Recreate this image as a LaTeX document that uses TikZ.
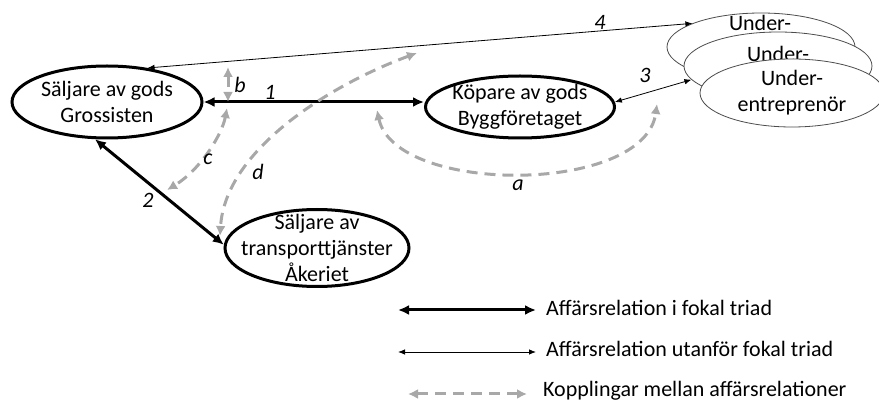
\documentclass[tikz,border=0pt]{standalone}
\usepackage{fontspec}
\setmainfont{Carlito}
\usetikzlibrary{arrows.meta,shapes.geometric}
\definecolor{linkgray}{RGB}{168,168,168}
\begin{document}
\begin{tikzpicture}[x=1pt,y=-1pt,
  txt/.style={font=\fontsize{22}{26}\selectfont},
  actor/.style={ellipse, draw, line width=3pt, inner sep=-30pt, align=center, txt},
  sub/.style={ellipse, draw=black!70, line width=0.8pt, fill=white, inner sep=-30pt,
    minimum width=188, minimum height=68, align=center, txt},
  focal/.style={line width=3pt, {Latex[length=11pt,width=10pt]}-{Latex[length=11pt,width=10pt]}},
  outer/.style={line width=0.8pt, {Latex[length=7pt,width=5.5pt]}-{Latex[length=7pt,width=5.5pt]}},
  link/.style={draw=linkgray, line width=3pt, dash pattern=on 11pt off 7pt,
    {Latex[length=10pt,width=10pt,fill=linkgray]}-{Latex[length=10pt,width=10pt,fill=linkgray]}},
  lbl/.style={font=\fontsize{22}{26}\selectfont\itshape, inner sep=1pt},
  legtxt/.style={txt, anchor=base west, inner sep=0pt},
]
\useasboundingbox (0,0) rectangle (879,403);

% actors of the focal triad
\node[actor, minimum width=190, minimum height=72] (gros) at (107,102) {Säljare av gods\\Grossisten};
\node[actor, minimum width=189, minimum height=62] (kop) at (520,107) {Köpare av gods\\Byggföretaget};
\node[actor, minimum width=184, minimum height=77] (ake) at (317,248) {Säljare av\\transporttjänster\\Åkeriet};

% stacked subcontractors, back to front
\node[sub] (ueback) at (761,47) {};
\node[txt, inner sep=0pt] (uebacktxt) at (760,23) {Under-};
\node[sub] (uemid) at (778,66) {};
\node[txt, inner sep=0pt] (uemidtxt) at (778,54) {Under-};
\node[sub, minimum width=184] (uefront) at (792,93) {Under-\\entreprenör};

% business relations
\draw[focal] (gros.east) -- (gros.east -| kop.west);
\draw[focal] (gros.252) -- (ake.178);
\draw[outer] (kop.3) -- (uemid.189);
\draw[outer] (gros.40) -- (ueback.161);

\node[lbl] (n1) at (270,92) {1};
\node[lbl] (n2) at (148,200) {2};
\node[lbl] (n3) at (645,75) {3};
\node[lbl] (n4) at (600,22) {4};

% connections between relations
\coordinate (a0) at (377,110);
\coordinate (a1) at (657,104);
\coordinate (b0) at (228,67);
\coordinate (b1) at (228,102);
\coordinate (c0) at (227,108);
\coordinate (c1) at (167,190);
\coordinate (d0) at (417,53);
\coordinate (d1) at (220,236);
\draw[link] (a0) .. controls (395,195) and (645,195) .. (a1);
\draw[link] (b0) -- (b1);
\draw[link] (c0) .. controls (222,135) and (200,170) .. (c1);
\draw[link] (d0) .. controls (330,85) and (225,150) .. (d1);

\node[lbl] (na) at (518,185) {a};
\node[lbl] (nb) at (240,85) {b};
\node[lbl] (nc) at (208,159) {c};
\node[lbl] (nd) at (258,172) {d};

% legend
\coordinate (k1a) at (398,310);
\coordinate (k1b) at (536,310);
\coordinate (k2a) at (398,352);
\coordinate (k2b) at (536,352);
\coordinate (k3a) at (408,394);
\coordinate (k3b) at (527,394);
\draw[focal] (k1a) -- (k1b);
\draw[outer] (k2a) -- (k2b);
\draw[link] (k3a) -- (k3b);
\node[legtxt] (t1) at (546,316) {Affärsrelation i fokal triad};
\node[legtxt] (t2) at (546,357) {Affärsrelation utanför fokal triad};
\node[legtxt] (t3) at (543,397) {Kopplingar mellan affärsrelationer};
\end{tikzpicture}
\end{document}
